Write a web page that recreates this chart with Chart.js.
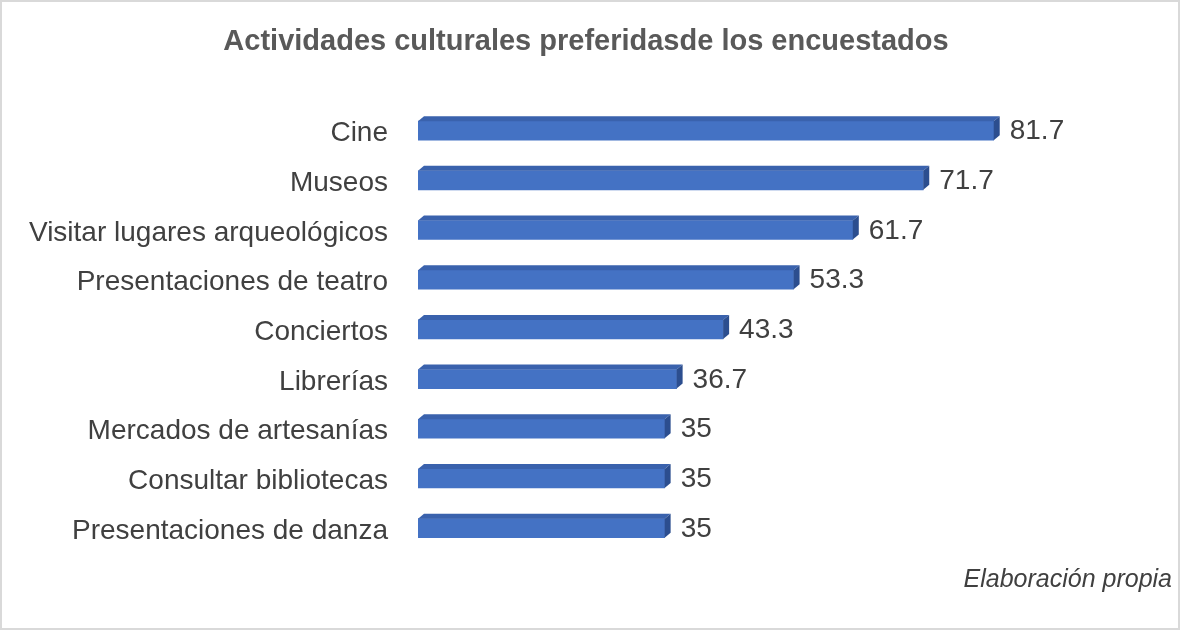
<!DOCTYPE html>
<html>
<head>
<meta charset="utf-8">
<style>
  html, body { margin: 0; padding: 0; background: #fff; }
  #wrap { width: 1180px; height: 630px; position: relative; }
</style>
<script src="https://cdn.jsdelivr.net/npm/chart.js@4/dist/chart.umd.min.js"></script>
</head>
<body>
<div id="wrap"><canvas id="actividadesChart"></canvas></div>
<script>
const categories = [
    'Cine',
    'Museos',
    'Visitar lugares arqueológicos',
    'Presentaciones de teatro',
    'Conciertos',
    'Librerías',
    'Mercados de artesanías',
    'Consultar bibliotecas',
    'Presentaciones de danza'
];
const values = [81.7, 71.7, 61.7, 53.3, 43.3, 36.7, 35, 35, 35];
const valueLabels = ['81.7', '71.7', '61.7', '53.3', '43.3', '36.7', '35', '35', '35'];

const FONT = '"Liberation Sans", Arial, sans-serif';

// fondo blanco y borde gris del recuadro
const frame = {
    id: 'frame',
    beforeDraw(chart) {
        const ctx = chart.ctx;
        ctx.save();
        ctx.fillStyle = '#fff';
        ctx.fillRect(0, 0, chart.width, chart.height);
        ctx.strokeStyle = '#d9d9d9';
        ctx.lineWidth = 2;
        ctx.strokeRect(1, 1, chart.width - 2, chart.height - 2);
        ctx.restore();
    }
};

// caras superior y derecha para el efecto 3D, mas las etiquetas de valor
const bars3d = {
    id: 'bars3d',
    afterDatasetsDraw(chart) {
        const ctx = chart.ctx;
        const dx = 6, dy = 5;
        const meta = chart.getDatasetMeta(0);
        ctx.save();
        meta.data.forEach(function (bar, i) {
            const left = bar.base, right = bar.x;
            const top = bar.y - bar.height / 2, bottom = bar.y + bar.height / 2;
            // cara superior
            ctx.fillStyle = '#3a62ad';
            ctx.beginPath();
            ctx.moveTo(left, top);
            ctx.lineTo(left + dx, top - dy);
            ctx.lineTo(right + dx, top - dy);
            ctx.lineTo(right, top);
            ctx.closePath();
            ctx.fill();
            // cara derecha
            ctx.fillStyle = '#2c4e8f';
            ctx.beginPath();
            ctx.moveTo(right, top);
            ctx.lineTo(right + dx, top - dy);
            ctx.lineTo(right + dx, bottom - dy);
            ctx.lineTo(right, bottom);
            ctx.closePath();
            ctx.fill();
            // etiqueta
            ctx.fillStyle = '#404040';
            ctx.font = '28px ' + FONT;
            ctx.textAlign = 'left';
            ctx.textBaseline = 'middle';
            ctx.fillText(valueLabels[i], right + 16, bar.y + 1);
        });
        ctx.restore();
    }
};

const ctxAct = document.getElementById('actividadesChart').getContext('2d');
const actividadesChart = new Chart(ctxAct, {
    type: 'bar',
    data: {
        labels: categories,
        datasets: [{
            label: 'Porcentaje',
            data: values,
            backgroundColor: '#4472c4',
            borderWidth: 0,
            barThickness: 19
        }]
    },
    options: {
        indexAxis: 'y',
        responsive: true,
        maintainAspectRatio: false,
        animation: false,
        layout: { padding: { left: 0, right: 8, top: 0, bottom: 0 } },
        scales: {
            x: {
                display: false,
                min: 0,
                max: 107
            },
            y: {
                grid: { display: false, drawTicks: false },
                border: { display: false },
                ticks: {
                    color: '#404040',
                    font: { family: FONT, size: 28 },
                    padding: 30,
                    labelOffset: 3
                },
                afterFit: function (scale) {
                    scale.width = 418;
                }
            }
        },
        plugins: {
            legend: { display: false },
            tooltip: { enabled: false },
            title: {
                display: true,
                text: 'Actividades culturales preferidasde los encuestados',
                color: '#595959',
                font: { family: FONT, size: 29, weight: 'bold' },
                padding: { top: 25, bottom: 46 }
            },
            subtitle: {
                display: true,
                position: 'bottom',
                align: 'end',
                text: 'Elaboración propia',
                color: '#404040',
                font: { family: FONT, size: 25, style: 'italic' },
                padding: { top: 12, bottom: 35 }
            }
        }
    },
    plugins: [frame, bars3d]
});
</script>
</body>
</html>
